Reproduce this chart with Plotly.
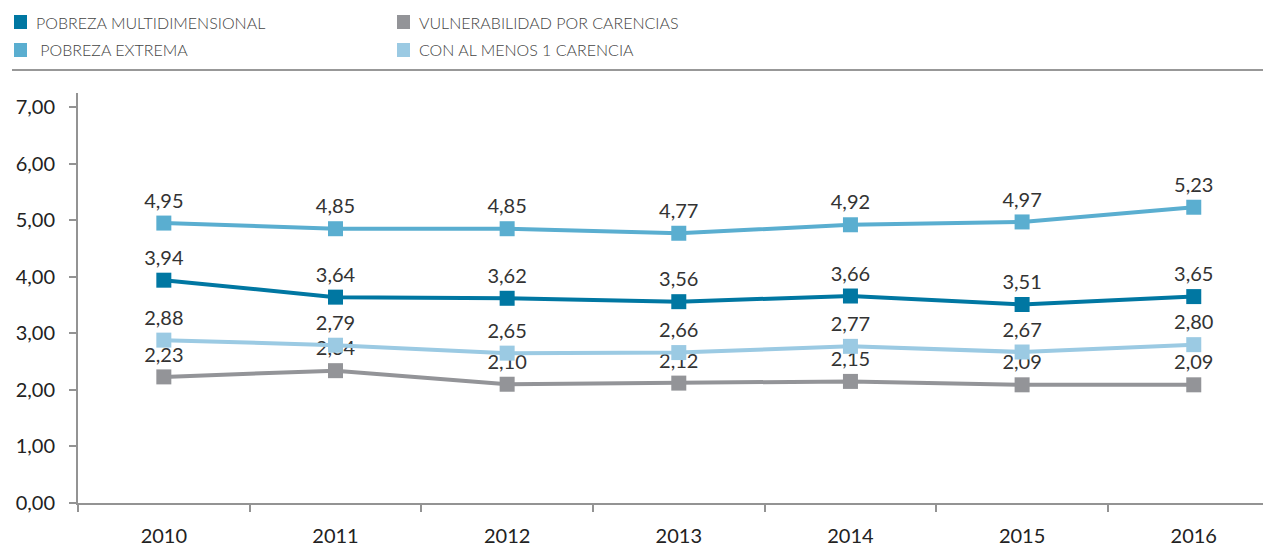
import plotly.graph_objects as go

years = ["2010", "2011", "2012", "2013", "2014", "2015", "2016"]
pobreza_multi = [3.94, 3.64, 3.62, 3.56, 3.66, 3.51, 3.65]
pobreza_extrema = [4.95, 4.85, 4.85, 4.77, 4.92, 4.97, 5.23]
vulnerabilidad = [2.23, 2.34, 2.10, 2.12, 2.15, 2.09, 2.09]
con_carencia = [2.88, 2.79, 2.65, 2.66, 2.77, 2.67, 2.80]

series = [
    ("POBREZA MULTIDIMENSIONAL", pobreza_multi, "#0077a2"),
    ("\u00a0POBREZA EXTREMA", pobreza_extrema, "#5aaed0"),
    ("VULNERABILIDAD POR CARENCIAS", vulnerabilidad, "#939498"),
    ("CON AL MENOS 1 CARENCIA", con_carencia, "#9bcae3"),
]

OFF = 8  # browser default body margin
W, H = 1271 - OFF, 548 - OFF
ML, MR, MT, MB = 78 - OFF, 0, 93 - OFF, 548 - 503
PW, PH = W - ML - MR, H - MT - MB


def px(x):  # reference pixel -> paper
    return (x - OFF - ML) / PW


def py(y):
    return (H - MB - (y - OFF)) / PH


fig = go.Figure()
for idx in [2, 3, 1, 0]:
    name, vals, col = series[idx]
    fig.add_trace(go.Scatter(
        x=years, y=vals, name=name.strip(), mode="lines+markers+text",
        line=dict(color=col, width=4),
        marker=dict(symbol="square", size=15, color=col),
        text=[f"{v:.2f}".replace(".", ",") for v in vals],
        textposition="top center",
        textfont=dict(family="Lato, Open Sans, sans-serif", size=20, color="#333333"),
        showlegend=False, cliponaxis=False,
    ))

leg_pos = [(14, 22), (14, 50), (397, 22), (397, 50)]
for (name, vals, col), (lx, ly) in zip(series, leg_pos):
    fig.add_shape(type="rect", xref="paper", yref="paper",
                  x0=px(lx), x1=px(lx + 13),
                  y0=py(ly + 7), y1=py(ly - 7),
                  fillcolor=col, line=dict(width=0))
    fig.add_annotation(text=name, xref="paper", yref="paper",
                       x=px(lx + 20), y=py(ly), xanchor="left", yanchor="middle",
                       showarrow=False,
                       font=dict(family="Lato, sans-serif", size=16, color="#444444", weight=300))
fig.add_shape(type="line", xref="paper", yref="paper",
              x0=px(12), x1=px(1271), y0=py(70), y1=py(70),
              line=dict(color="#333333", width=1.2))

fig.update_layout(
    width=W, height=H,
    margin=dict(l=ML, r=MR, t=MT, b=MB, autoexpand=False),
    paper_bgcolor="white", plot_bgcolor="white",
    separators=",.",
    xaxis=dict(type="category", range=[-0.5, 6.45], tickson="boundaries",
               ticks="outside", ticklen=7, tickcolor="#939393", tickwidth=2,
               showline=True, linecolor="#939393", linewidth=2,
               showgrid=False, zeroline=False, automargin=False, ticklabelstandoff=14,
               tickfont=dict(family="Lato, Open Sans, sans-serif", size=20, color="#222222")),
    yaxis=dict(range=[0, 7.25], tickvals=[0, 1, 2, 3, 4, 5, 6, 7], tickformat=".2f",
               ticks="outside", ticklen=7, tickcolor="#939393", tickwidth=2,
               showline=True, linecolor="#939393", linewidth=2,
               showgrid=False, zeroline=False, automargin=False, ticklabelstandoff=10,
               tickfont=dict(family="Lato, Open Sans, sans-serif", size=20, color="#222222")),
)

fig.write_html("out.html")
